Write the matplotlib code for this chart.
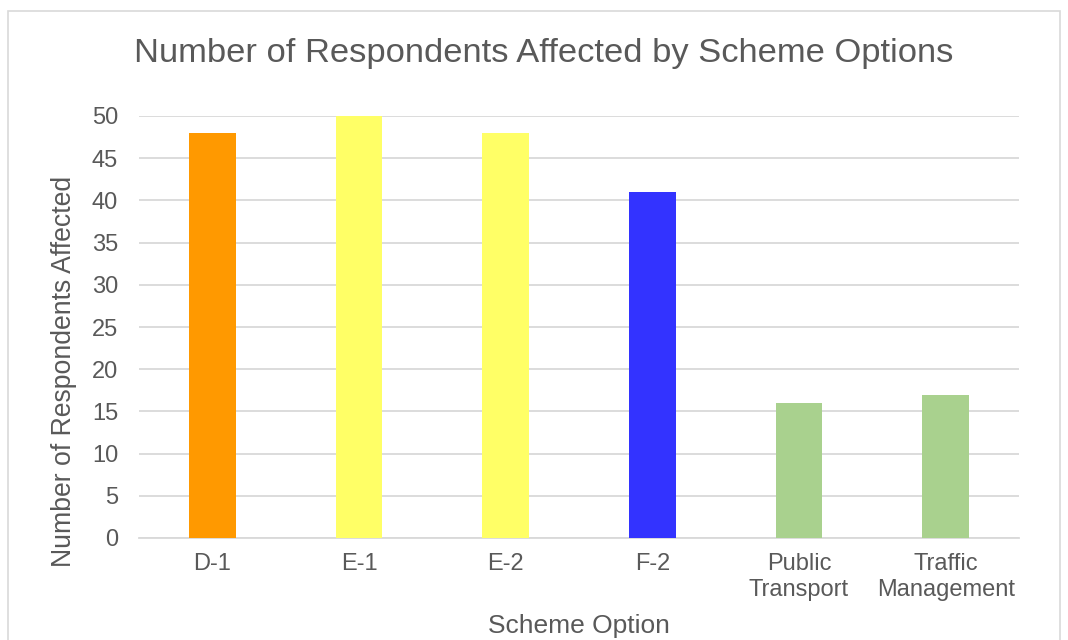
import matplotlib.pyplot as plt
from matplotlib.patches import Rectangle

plt.rcParams['font.family'] = ['Liberation Sans', 'DejaVu Sans']

# Chart data
options = ["D-1", "E-1", "E-2", "F-2", "Public\nTransport", "Traffic\nManagement"]
respondents = [48, 50, 48, 41, 16, 17]
bar_colors = ["#FF9900", "#FFFF66", "#FFFF66", "#3333FF", "#A9D18E", "#A9D18E"]

text_color = "#595959"
grid_color = "#D9D9D9"

fig = plt.figure(figsize=(10.68, 6.4), dpi=100)
ax = fig.add_axes([139 / 1068, 1 - 538 / 640, (1019 - 139) / 1068, (538 - 116) / 640])

x = range(len(options))
ax.bar(x, respondents, width=0.32, color=bar_colors, zorder=3)

ax.set_xlim(-0.5, len(options) - 0.5)
ax.set_ylim(0, 50)
ax.set_yticks(range(0, 51, 5))
ax.set_xticks(list(x))
ax.set_xticklabels(options)

ax.grid(axis="y", color=grid_color, linewidth=1.3, zorder=0)
for s in ["top", "right", "left"]:
    ax.spines[s].set_visible(False)
ax.spines["bottom"].set_color(grid_color)
ax.spines["bottom"].set_linewidth(1.3)
ax.tick_params(axis="both", length=0, labelsize=17, colors=text_color)
ax.tick_params(axis="x", pad=11)
ax.tick_params(axis="y", pad=15)

ax.set_xlabel("Scheme Option", fontsize=19, color=text_color, va="center")
ax.xaxis.set_label_coords(0.5, -0.2085)
ax.set_ylabel("Number of Respondents Affected", fontsize=19.2, color=text_color, va="center")
ax.yaxis.set_label_coords(-0.085, 0.395)

fig.text(0.509, 0.917, "Number of Respondents Affected by Scheme Options",
         ha="center", va="center", fontsize=24.8, color=text_color)

# light border around chart area
fig.patches.append(Rectangle((8 / 1068, -0.01), 1052 / 1068, 1 - 11 / 640 + 0.01,
                             transform=fig.transFigure, fill=False,
                             edgecolor=grid_color, linewidth=1.2))

plt.savefig("out.png", dpi=100)
